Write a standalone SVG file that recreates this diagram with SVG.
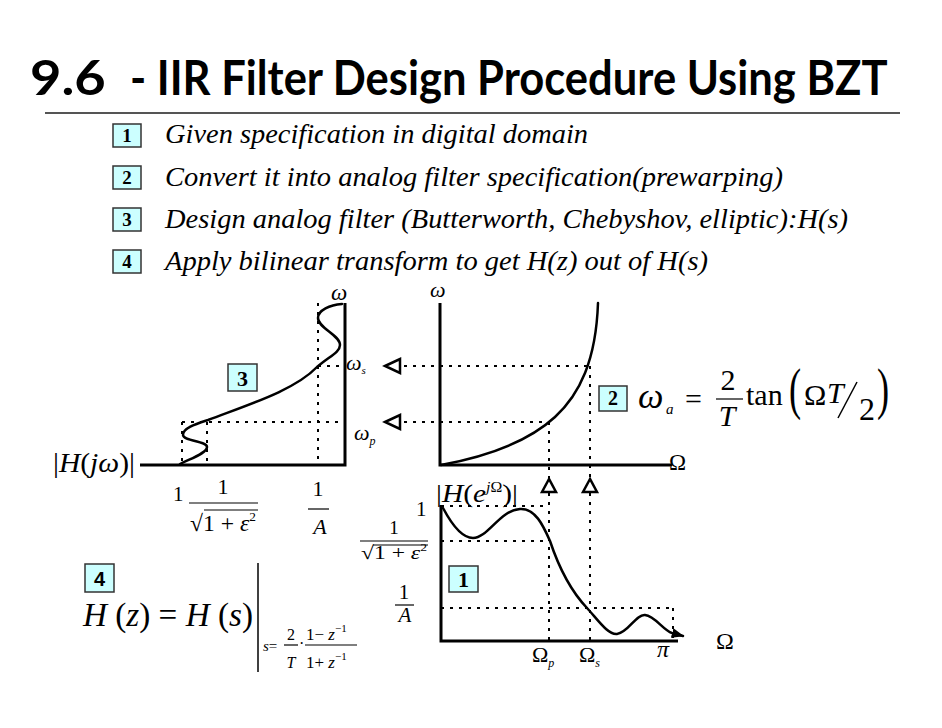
<svg xmlns="http://www.w3.org/2000/svg" width="942" height="728" viewBox="0 0 942 728">
<defs>
<style>
.t{font-family:"Liberation Serif","Times New Roman",serif;fill:#000}
.i{font-style:italic}
.box{fill:#ccffff;stroke:#333;stroke-width:1.5}
.bn{font-family:"Liberation Serif","Times New Roman",serif;font-weight:bold;text-anchor:middle;fill:#000}
.bs{font-family:"Liberation Sans",Arial,sans-serif;font-weight:bold;text-anchor:middle;fill:#000}
.li{font-family:"Liberation Serif","Times New Roman",serif;font-style:italic;font-size:27px;fill:#000}
.ax{stroke:#000;stroke-width:3;fill:none}
.cv{stroke:#000;stroke-width:2.5;fill:none;stroke-linecap:round;stroke-linejoin:round}
.dot{stroke:#000;stroke-width:2;stroke-dasharray:3 6;fill:none}
.tri{fill:none;stroke:#000;stroke-width:2.5;stroke-linejoin:miter}
.fl{stroke:#000;stroke-width:1.2}
.m{text-anchor:middle}
.ti{font-family:Lato,"Open Sans","Liberation Sans",sans-serif;font-weight:bold;font-size:47px;fill:#000}
</style>
<marker id="ah" viewBox="0 0 10 10" refX="9" refY="5" markerWidth="5" markerHeight="5" orient="auto">
<path d="M0,1 L10,5 L0,9 Z" fill="#000"/>
</marker>
</defs>
<rect width="942" height="728" fill="#fff"/>

<g id="title">
<text class="ti" transform="translate(30,95) scale(0.75,1)" x="0" y="0" textLength="101" lengthAdjust="spacingAndGlyphs">9.6</text>
<text class="ti" transform="translate(130,95) scale(0.75,1)" x="0" y="0" textLength="1010" lengthAdjust="spacingAndGlyphs">- IIR Filter Design Procedure Using BZT</text>
<line x1="45" y1="113" x2="900" y2="113" stroke="#555" stroke-width="2"/>
</g>

<g id="steps">
<g id="step1">
<rect class="box" x="113" y="124" width="28" height="23"/>
<text class="bn" x="127" y="142" font-size="19">1</text>
<text class="li" x="165" y="143" textLength="423" lengthAdjust="spacingAndGlyphs">Given specification in digital domain</text>
</g>
<g id="step2">
<rect class="box" x="113" y="166" width="28" height="23"/>
<text class="bn" x="127" y="184" font-size="19">2</text>
<text class="li" x="165" y="186" textLength="618" lengthAdjust="spacingAndGlyphs">Convert it into analog filter specification(prewarping)</text>
</g>
<g id="step3">
<rect class="box" x="113" y="208" width="28" height="23"/>
<text class="bn" x="127" y="226" font-size="19">3</text>
<text class="li" x="165" y="228" textLength="683" lengthAdjust="spacingAndGlyphs">Design analog filter (Butterworth, Chebyshov, elliptic):H(s)</text>
</g>
<g id="step4">
<rect class="box" x="113" y="250" width="28" height="23"/>
<text class="bn" x="127" y="268" font-size="19">4</text>
<text class="li" x="165" y="270" textLength="543" lengthAdjust="spacingAndGlyphs">Apply bilinear transform to get H(z) out of H(s)</text>
</g>
</g>

<g id="connectors">
<path class="dot" d="M182,422 H345 M182,422 V465 M207,422 V465 M318,303 V465 M318,366 H345"/>
<path class="dot" d="M404,366 H590 M404,422 H549 M549,422 V478 M590,366 V478"/>
<path class="dot" d="M549,493 V641 M590,493 V641 M441,506 H549 M441,541 H549 M441,608 H673 M673,608 V641"/>
<polygon class="tri" points="385,366 400,359 400,373"/>
<polygon class="tri" points="385,422 400,415 400,429"/>
<polygon class="tri" points="549,479 542,492 556,492"/>
<polygon class="tri" points="590,479 583,492 597,492"/>
</g>

<g id="analog-plot">
<path class="ax" d="M140,465 H345 V303"/>
<path class="cv" d="M180,464 C192,458 207,453 207,447 C207,441 183,441 183,435 C183,428 196,424 208,420 C250,404 295,390 317,367 C330,356 340,352 340,345 C340,335 318,328 318,318 C318,310 330,305 342,304"/>
<rect class="box" x="228" y="364" width="29" height="27"/>
<text class="bn" x="242.5" y="386" font-size="22">3</text>
<text class="t" x="53" y="472" font-size="27" textLength="82" lengthAdjust="spacingAndGlyphs">|<tspan class="i">H</tspan>(<tspan class="i">jω</tspan>)|</text>
<text class="t i" x="331" y="300" font-size="23">ω</text>
<text class="t i" x="346" y="370" font-size="22">ω<tspan font-size="11" dy="4">s</tspan></text>
<text class="t i" x="354" y="440" font-size="22">ω<tspan font-size="12" dy="5">p</tspan></text>
<text class="t" x="173" y="501" font-size="21">1</text>
<text class="t m" x="223" y="494" font-size="22">1</text>
<line class="fl" x1="189" y1="503" x2="258" y2="503"/>
<text class="t" x="190" y="531" font-size="23" textLength="66" lengthAdjust="spacingAndGlyphs">√1 + <tspan class="i">ε</tspan><tspan font-size="13" dy="-10">2</tspan></text>
<line class="fl" x1="204" y1="510" x2="258" y2="510" stroke-width="1"/>
<text class="t m" x="318" y="496" font-size="22">1</text>
<line class="fl" x1="308" y1="509" x2="329" y2="509"/>
<text class="t i m" x="320" y="534" font-size="22">A</text>
</g>

<g id="warping-plot">
<path class="ax" d="M440,303 V465 H672"/>
<path class="cv" d="M441,465 C490,456 530,440 555,417 C580,394 596,360 598,303"/>
<text class="t i" x="430" y="297" font-size="22">ω</text>
<text class="t" x="669" y="470" font-size="23">Ω</text>
<rect class="box" x="599" y="386" width="28" height="25"/>
<text class="bn" x="613" y="405" font-size="20">2</text>
<text class="t i" x="638" y="408" font-size="36">ω</text>
<text class="t i" x="666" y="414" font-size="15">a</text>
<text class="t" x="685" y="409" font-size="30">=</text>
<text class="t m" x="728" y="390" font-size="30">2</text>
<line class="fl" x1="716" y1="399" x2="743" y2="399" stroke-width="1.5"/>
<text class="t i m" x="727" y="426" font-size="30">T</text>
<text class="t" x="746" y="405" font-size="30">tan</text>
<text class="t" x="0" y="0" font-size="56" transform="translate(789,408) scale(0.65,1)">(</text>
<text class="t" x="804" y="405" font-size="30">Ω</text>
<text class="t i" x="827" y="403" font-size="30">T</text>
<line x1="838" y1="418" x2="857" y2="382" stroke="#000" stroke-width="1.5"/>
<text class="t" x="859" y="420" font-size="32">2</text>
<text class="t" x="0" y="0" font-size="56" transform="translate(877,408) scale(0.65,1)">)</text>
</g>

<g id="digital-plot">
<path class="ax" d="M441,505 V641 H678"/>
<path class="cv" marker-end="url(#ah)" d="M443,508 C452,525 462,538 473,538 C488,538 500,510 520,509 C535,508 543,525 550,541 C558,565 570,590 587,608 C598,620 608,635 617,634 C628,633 636,614 645,615 C655,616 663,630 672,633 L683,636"/>
<rect class="box" x="449" y="566" width="29" height="26"/>
<text class="bn" x="463.5" y="587" font-size="22">1</text>
<text class="t" x="436" y="502" font-size="26" textLength="82" lengthAdjust="spacingAndGlyphs">|<tspan class="i">H</tspan>(<tspan class="i">e</tspan><tspan class="i" font-size="14" dy="-10">j</tspan><tspan font-size="14">Ω</tspan><tspan dy="10">)|</tspan></text>
<text class="t" x="416" y="516" font-size="21">1</text>
<text class="t m" x="394" y="534" font-size="19">1</text>
<line class="fl" x1="360" y1="541" x2="428" y2="541"/>
<text class="t" x="361" y="559" font-size="19" textLength="66" lengthAdjust="spacingAndGlyphs">√1 + <tspan class="i">ε</tspan><tspan font-size="11" dy="-8">2</tspan></text>
<line class="fl" x1="373" y1="545" x2="428" y2="545" stroke-width="1"/>
<text class="t m" x="404" y="599" font-size="21">1</text>
<line class="fl" x1="395" y1="605" x2="414" y2="605"/>
<text class="t i m" x="405" y="622" font-size="21">A</text>
<text class="t" x="532" y="662" font-size="22">Ω<tspan class="i" font-size="12" dy="5">p</tspan></text>
<text class="t" x="579" y="662" font-size="22">Ω<tspan class="i" font-size="12" dy="5">s</tspan></text>
<text class="t i" x="657" y="657" font-size="24">π</text>
<text class="t" x="716" y="649" font-size="24">Ω</text>
</g>

<g id="bzt-formula">
<rect class="box" x="85" y="564" width="29" height="28"/>
<text class="bs" x="99.5" y="586" font-size="20">4</text>
<text class="t" x="83" y="626" font-size="34" textLength="170" lengthAdjust="spacingAndGlyphs"><tspan class="i">H</tspan> (<tspan class="i">z</tspan>) = <tspan class="i">H</tspan> (<tspan class="i">s</tspan>)</text>
<line x1="258" y1="563" x2="258" y2="672" stroke="#000" stroke-width="1.5"/>
<text class="t" x="263" y="651" font-size="15"><tspan class="i">s</tspan>=</text>
<text class="t m" x="291" y="640" font-size="16">2</text>
<line class="fl" x1="284" y1="645" x2="298" y2="645" stroke-width="1"/>
<text class="t i m" x="291" y="668" font-size="16">T</text>
<text class="t" x="299" y="649" font-size="16">·</text>
<text class="t" x="306" y="640" font-size="17">1− <tspan class="i">z</tspan><tspan font-size="11" dy="-8">−1</tspan></text>
<line class="fl" x1="305" y1="645" x2="357" y2="645" stroke-width="1"/>
<text class="t" x="306" y="668" font-size="17">1+ <tspan class="i">z</tspan><tspan font-size="11" dy="-8">−1</tspan></text>
</g>
</svg>
